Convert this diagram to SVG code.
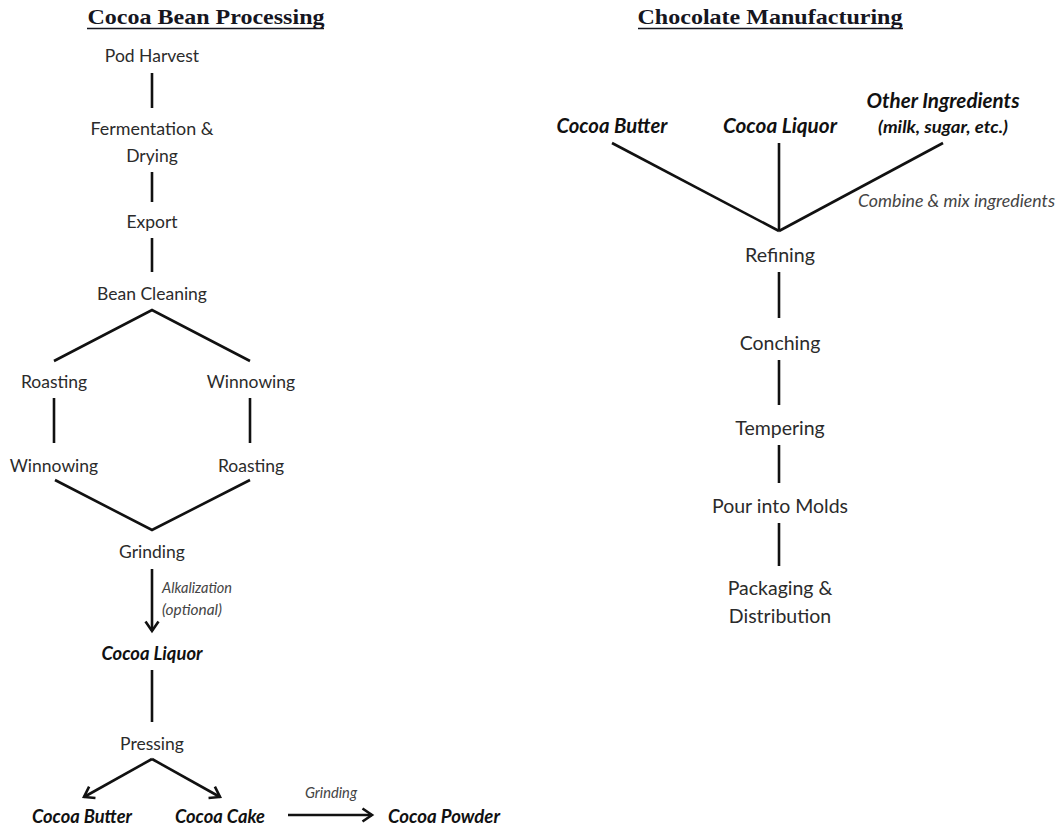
<svg xmlns="http://www.w3.org/2000/svg" width="1060" height="828" viewBox="0 0 1060 828">
<defs>
<style>
.t{font-family:Lato,"Open Sans","Liberation Sans",sans-serif;font-size:17.5px;fill:#2b2b2b;text-anchor:middle}
.r{font-family:Lato,"Open Sans","Liberation Sans",sans-serif;font-size:19.5px;fill:#2b2b2b;text-anchor:middle}
.b{font-family:Lato,"Open Sans","Liberation Sans",sans-serif;font-size:18.5px;font-weight:bold;font-style:italic;fill:#111;text-anchor:middle}
.rb{font-family:Lato,"Open Sans","Liberation Sans",sans-serif;font-size:20px;font-weight:bold;font-style:italic;fill:#111;text-anchor:middle}
.i{font-family:Lato,"Open Sans","Liberation Sans",sans-serif;font-size:14.5px;font-style:italic;fill:#444}
.h{font-family:"Liberation Serif","DejaVu Serif",serif;font-size:21px;font-weight:bold;fill:#16161f;text-anchor:middle}
.l{stroke:#111;stroke-width:2.6;fill:none;stroke-linecap:butt}
</style>
<marker id="ah" markerUnits="userSpaceOnUse" markerWidth="16" markerHeight="16" viewBox="0 0 16 16" refX="13" refY="8" orient="auto">
<path d="M3.5,1.5 L13,8 L3.5,14.5" fill="none" stroke="#111" stroke-width="2.6"/>
</marker>
</defs>
<rect width="1060" height="828" fill="#fff"/>

<g id="title-left">
<text class="h" x="206" y="24" textLength="237" lengthAdjust="spacingAndGlyphs">Cocoa Bean Processing</text>
<line x1="87" y1="28.5" x2="324" y2="28.5" stroke="#16161f" stroke-width="1.5"/>
</g>
<g id="title-right">
<text class="h" x="770" y="24" textLength="265" lengthAdjust="spacingAndGlyphs">Chocolate Manufacturing</text>
<line x1="638" y1="28.5" x2="903" y2="28.5" stroke="#16161f" stroke-width="1.5"/>
</g>

<g id="connectors">
<line class="l" x1="152" y1="73" x2="152" y2="108"/>
<line class="l" x1="152" y1="172" x2="152" y2="202"/>
<line class="l" x1="152" y1="238" x2="152" y2="272"/>
<polyline class="l" points="54,361 152,310 250,361"/>
<line class="l" x1="54" y1="398" x2="54" y2="443"/>
<line class="l" x1="250" y1="398" x2="250" y2="443"/>
<polyline class="l" points="55,480 152,530 250,480"/>
<line class="l" x1="152" y1="569" x2="152" y2="631" marker-end="url(#ah)"/>
<line class="l" x1="152" y1="670" x2="152" y2="722"/>
<line class="l" x1="152" y1="759" x2="84" y2="797" marker-end="url(#ah)"/>
<line class="l" x1="152" y1="759" x2="220" y2="797" marker-end="url(#ah)"/>
<line class="l" x1="288" y1="815" x2="372" y2="815" marker-end="url(#ah)"/>
<line class="l" x1="612" y1="143" x2="779" y2="231"/>
<line class="l" x1="779" y1="143" x2="779" y2="231"/>
<line class="l" x1="943" y1="143" x2="779" y2="231"/>
<line class="l" x1="779" y1="272" x2="779" y2="318"/>
<line class="l" x1="779" y1="360" x2="779" y2="405"/>
<line class="l" x1="779" y1="445" x2="779" y2="483"/>
<line class="l" x1="779" y1="523" x2="779" y2="566"/>
<text class="i" x="162" y="593" textLength="70" lengthAdjust="spacingAndGlyphs">Alkalization</text>
<text class="i" x="162" y="615" textLength="60" lengthAdjust="spacingAndGlyphs">(optional)</text>
<text class="i" x="305" y="798" textLength="52" lengthAdjust="spacingAndGlyphs">Grinding</text>
<text class="i" x="858" y="207" style="font-size:17px" textLength="197" lengthAdjust="spacingAndGlyphs">Combine &amp; mix ingredients</text>
</g>

<g id="pod-harvest"><text class="t" x="152" y="62">Pod Harvest</text></g>
<g id="fermentation"><text class="t" x="152" y="135" textLength="123" lengthAdjust="spacingAndGlyphs">Fermentation &amp;</text><text class="t" x="152" y="162">Drying</text></g>
<g id="export"><text class="t" x="152" y="228">Export</text></g>
<g id="bean-cleaning"><text class="t" x="152" y="300">Bean Cleaning</text></g>
<g id="roasting-1"><text class="t" x="54" y="388">Roasting</text></g>
<g id="winnowing-1"><text class="t" x="251" y="388">Winnowing</text></g>
<g id="winnowing-2"><text class="t" x="54" y="472">Winnowing</text></g>
<g id="roasting-2"><text class="t" x="251" y="472">Roasting</text></g>
<g id="grinding"><text class="t" x="152" y="558">Grinding</text></g>
<g id="cocoa-liquor-1"><text class="b" x="152" y="660" textLength="101" lengthAdjust="spacingAndGlyphs">Cocoa Liquor</text></g>
<g id="pressing"><text class="t" x="152" y="750">Pressing</text></g>
<g id="cocoa-butter-1"><text class="b" x="82" y="823" textLength="100" lengthAdjust="spacingAndGlyphs">Cocoa Butter</text></g>
<g id="cocoa-cake"><text class="b" x="220" y="823" textLength="90" lengthAdjust="spacingAndGlyphs">Cocoa Cake</text></g>
<g id="cocoa-powder"><text class="b" x="444" y="823" textLength="112" lengthAdjust="spacingAndGlyphs">Cocoa Powder</text></g>

<g id="cocoa-butter-2"><text class="rb" x="612" y="133" textLength="111" lengthAdjust="spacingAndGlyphs">Cocoa Butter</text></g>
<g id="cocoa-liquor-2"><text class="rb" x="780" y="133" textLength="114" lengthAdjust="spacingAndGlyphs">Cocoa Liquor</text></g>
<g id="other-ingredients"><text class="rb" x="943" y="108" textLength="153" lengthAdjust="spacingAndGlyphs">Other Ingredients</text><text class="rb" x="943" y="133" style="font-size:17.5px" textLength="130" lengthAdjust="spacingAndGlyphs">(milk, sugar, etc.)</text></g>
<g id="refining"><text class="r" x="780" y="262" textLength="70" lengthAdjust="spacingAndGlyphs">Refining</text></g>
<g id="conching"><text class="r" x="780" y="350">Conching</text></g>
<g id="tempering"><text class="r" x="780" y="435">Tempering</text></g>
<g id="pour"><text class="r" x="780" y="513" textLength="136" lengthAdjust="spacingAndGlyphs">Pour into Molds</text></g>
<g id="packaging"><text class="r" x="780" y="595">Packaging &amp;</text><text class="r" x="780" y="623">Distribution</text></g>
</svg>
